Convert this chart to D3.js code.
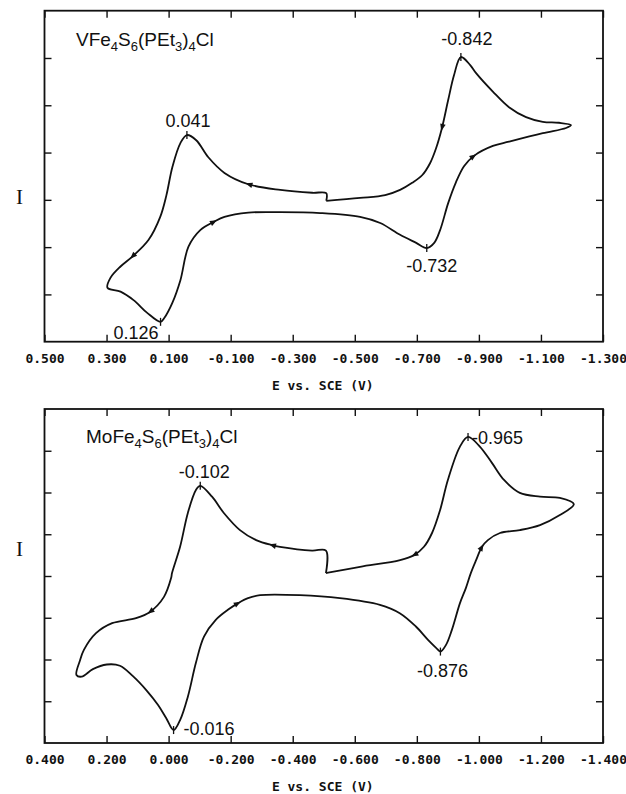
<!DOCTYPE html>
<html>
<head>
<meta charset="utf-8">
<script src="https://cdn.jsdelivr.net/npm/d3@7"></script>
<style>
  body { margin: 0; background: #fff; }
  svg { display: block; }
</style>
</head>
<body>
<svg id="chart" width="626" height="794"></svg>
<script>
// ---- data (E in V vs SCE, I in tick units from the bottom of each frame) ----
const vfeTicks = [0.5, 0.3, 0.1, -0.1, -0.3, -0.5, -0.7, -0.9, -1.1, -1.3];
const moTicks = [0.4, 0.2, 0.0, -0.2, -0.4, -0.6, -0.8, -1.0, -1.2, -1.4];

// VFe4S6(PEt3)4Cl, scan starts at the step near -0.4 V
const vfeCurve = [
  [-0.408, 2.98], [-0.408, 3.14], [-0.363, 3.15], [-0.260, 3.21], [-0.157, 3.33],
  [-0.080, 3.57], [-0.028, 3.90], [0.011, 4.26], [0.041, 4.37], [0.062, 4.20],
  [0.088, 3.69], [0.107, 3.10], [0.127, 2.64], [0.165, 2.15], [0.217, 1.80],
  [0.255, 1.59], [0.2875, 1.35], [0.297, 1.14], [0.255, 1.06], [0.213, 0.88],
  [0.169, 0.61], [0.126, 0.42], [0.114, 0.50], [0.088, 0.82], [0.062, 1.30],
  [0.036, 2.01], [-0.002, 2.36], [-0.047, 2.54], [-0.080, 2.64], [-0.157, 2.73],
  [-0.260, 2.74], [-0.389, 2.72], [-0.517, 2.64], [-0.582, 2.51], [-0.646, 2.26],
  [-0.698, 2.09], [-0.732, 1.98], [-0.756, 2.09], [-0.775, 2.36], [-0.801, 2.93],
  [-0.826, 3.37], [-0.852, 3.71], [-0.884, 3.93], [-0.945, 4.14], [-0.997, 4.23],
  [-1.106, 4.41], [-1.181, 4.52], [-1.197, 4.58], [-1.158, 4.63], [-1.106, 4.65],
  [-1.052, 4.75], [-0.997, 4.96], [-0.945, 5.29], [-0.891, 5.68], [-0.872, 5.85],
  [-0.842, 6.02], [-0.820, 5.64], [-0.801, 5.11], [-0.781, 4.52], [-0.762, 4.09],
  [-0.743, 3.78], [-0.717, 3.52], [-0.685, 3.36], [-0.646, 3.21], [-0.598, 3.10],
  [-0.517, 3.04], [-0.408, 2.98]
];
const vfeArrows = [[-0.157, 3.33], [0.217, 1.80], [-0.047, 2.54], [-0.884, 3.93], [-0.781, 4.52]];
const vfePeaks = [
  { E: 0.041, I: 4.37, text: "0.041" },
  { E: -0.842, I: 6.02, text: "-0.842" },
  { E: 0.126, I: 0.42, text: "0.126" },
  { E: -0.732, I: 1.98, text: "-0.732" }
];

// MoFe4S6(PEt3)4Cl, scan starts at the step near -0.5 V
const moCurve = [
  [-0.507, 4.07], [-0.507, 4.61], [-0.462, 4.61], [-0.359, 4.70], [-0.333, 4.74],
  [-0.282, 4.86], [-0.230, 5.10], [-0.178, 5.51], [-0.140, 5.90], [-0.102, 6.16],
  [-0.088, 6.06], [-0.062, 5.51], [-0.037, 4.70], [-0.011, 4.07], [-0.008, 3.95],
  [0.015, 3.50], [0.060, 3.14], [0.105, 2.99], [0.182, 2.87], [0.234, 2.63],
  [0.273, 2.23], [0.286, 1.97], [0.297, 1.63], [0.280, 1.59], [0.244, 1.77],
  [0.199, 1.88], [0.157, 1.85], [0.115, 1.60], [0.070, 1.25], [0.034, 0.91],
  [0.008, 0.60], [-0.016, 0.31], [-0.037, 0.55], [-0.062, 1.11], [-0.088, 1.92],
  [-0.114, 2.55], [-0.152, 2.95], [-0.191, 3.19], [-0.224, 3.35], [-0.256, 3.47],
  [-0.295, 3.54], [-0.423, 3.54], [-0.552, 3.47], [-0.681, 3.31], [-0.745, 3.11],
  [-0.797, 2.79], [-0.836, 2.47], [-0.862, 2.28], [-0.876, 2.19], [-0.894, 2.35],
  [-0.913, 2.71], [-0.939, 3.35], [-0.958, 3.71], [-0.974, 4.07], [-0.991, 4.38],
  [-1.010, 4.70], [-1.029, 4.86], [-1.068, 5.03], [-1.132, 5.10], [-1.197, 5.22],
  [-1.261, 5.46], [-1.306, 5.72], [-1.261, 5.87], [-1.197, 5.90], [-1.132, 5.99],
  [-1.081, 6.30], [-1.042, 6.71], [-1.003, 7.10], [-0.965, 7.33], [-0.939, 7.10],
  [-0.900, 6.30], [-0.875, 5.58], [-0.849, 5.03], [-0.823, 4.70], [-0.791, 4.50],
  [-0.746, 4.38], [-0.617, 4.22], [-0.514, 4.08], [-0.507, 4.07]
];
const moArrows = [[-0.333, 4.74], [0.060, 3.14], [-0.224, 3.35], [-1.010, 4.70], [-0.791, 4.50]];
const moPeaks = [
  { E: -0.102, I: 6.16, text: "-0.102" },
  { E: -0.965, I: 7.33, text: "-0.965" },
  { E: -0.016, I: 0.31, text: "-0.016" },
  { E: -0.876, I: 2.19, text: "-0.876" }
];

const svg = d3.select("#chart");
const monoFont = "'DejaVu Sans Mono', monospace";
const sansFont = "'Liberation Sans', Arial, sans-serif";

function drawPanel(p) {
  const x = d3.scaleLinear().domain([p.ticks[0], p.ticks[p.ticks.length - 1]]).range([p.left, p.right]);
  const y = d3.scaleLinear().domain([0, p.yMax]).range([p.bottom, p.top]);
  const yTicks = d3.range(1, p.yMax);
  const g = svg.append("g");

  const styleAxis = a => {
    a.select(".domain").remove();
    a.selectAll("line").attr("stroke", "#111").attr("stroke-width", 1.4);
  };

  // x axis with labels, plus inward ticks on the other three sides
  g.append("g")
    .attr("transform", `translate(0,${p.bottom})`)
    .call(d3.axisBottom(x).tickValues(p.ticks).tickSize(-7).tickPadding(12).tickFormat(d => d.toFixed(3)))
    .call(styleAxis)
    .call(a => a.selectAll("text")
      .attr("font-family", monoFont).attr("font-weight", "bold")
      .attr("font-size", 13).attr("fill", "#111"));
  g.append("g")
    .attr("transform", `translate(0,${p.top})`)
    .call(d3.axisTop(x).tickValues(p.ticks).tickSize(-7).tickFormat(""))
    .call(styleAxis);
  g.append("g")
    .attr("transform", `translate(${p.left},0)`)
    .call(d3.axisLeft(y).tickValues(yTicks).tickSize(-7).tickFormat(""))
    .call(styleAxis);
  g.append("g")
    .attr("transform", `translate(${p.right},0)`)
    .call(d3.axisRight(y).tickValues(yTicks).tickSize(-7).tickFormat(""))
    .call(styleAxis);

  g.append("rect")
    .attr("x", p.left).attr("y", p.top)
    .attr("width", p.right - p.left).attr("height", p.bottom - p.top)
    .attr("fill", "none").attr("stroke", "#111").attr("stroke-width", 1.8);

  // the voltammogram
  const line = d3.line()
    .x(d => x(d[0]))
    .y(d => y(d[1]))
    .curve(d3.curveCatmullRom.alpha(0.5));
  g.append("path")
    .datum(p.curve)
    .attr("d", line)
    .attr("fill", "none")
    .attr("stroke", "#111")
    .attr("stroke-width", 1.8)
    .attr("stroke-linejoin", "round");

  // direction arrows, pointing along the scan
  p.arrows.forEach(a => {
    const i = d3.minIndex(p.curve, d => Math.hypot(d[0] - a[0], d[1] - a[1]));
    const prev = p.curve[Math.max(i - 1, 0)], next = p.curve[Math.min(i + 1, p.curve.length - 1)];
    const ang = Math.atan2(y(next[1]) - y(prev[1]), x(next[0]) - x(prev[0])) * 180 / Math.PI;
    g.append("path")
      .attr("d", "M3,0 L-4,-2.8 L-4,2.8 Z")
      .attr("transform", `translate(${x(a[0])},${y(a[1])}) rotate(${ang})`)
      .attr("fill", "#111");
  });

  // peak marks and labels
  p.peaks.forEach((pk, k) => {
    const px = x(pk.E), py = y(pk.I);
    g.append("line")
      .attr("x1", px).attr("x2", px)
      .attr("y1", py - 4).attr("y2", py + 4)
      .attr("stroke", "#111").attr("stroke-width", 1.3);
    const o = p.labelPos[k];
    g.append("text")
      .attr("x", px + o[0]).attr("y", py + o[1])
      .attr("text-anchor", o[2])
      .attr("font-family", sansFont).attr("font-size", 18).attr("fill", "#111")
      .text(pk.text);
  });

  // compound name with subscripts
  const title = g.append("text")
    .attr("x", p.titleX).attr("y", p.titleY)
    .attr("font-family", sansFont).attr("font-size", 19).attr("fill", "#111");
  let shift = 0;
  p.title.split(/(_\d)/).filter(s => s.length).forEach(s => {
    if (s[0] === "_") {
      title.append("tspan").attr("font-size", 13).attr("dy", 5 - shift).text(s.slice(1));
      shift = 5;
    } else {
      title.append("tspan").attr("dy", -shift).text(s);
      shift = 0;
    }
  });

  // axis names
  g.append("text")
    .attr("x", (p.left + p.right) / 2 - 1).attr("y", p.bottom + 48)
    .attr("text-anchor", "middle")
    .attr("font-family", monoFont).attr("font-weight", "bold")
    .attr("font-size", 13).attr("fill", "#111")
    .text("E vs. SCE (V)");
  g.append("text")
    .attr("x", 19.5).attr("y", p.iLabelY)
    .attr("text-anchor", "middle")
    .attr("font-family", "'Liberation Serif', 'DejaVu Serif', serif")
    .attr("font-size", 21).attr("fill", "#111")
    .text("I");
}

drawPanel({
  ticks: vfeTicks, yMax: 7, curve: vfeCurve, arrows: vfeArrows, peaks: vfePeaks,
  left: 44.5, right: 603, top: 10.7, bottom: 341.7,
  labelPos: [[1, -8, "middle"], [6, -12, "middle"], [-2, 17, "end"], [5, 24, "middle"]],
  title: "VFe_4S_6(PEt_3)_4Cl", titleX: 76, titleY: 46,
  iLabelY: 204
});

drawPanel({
  ticks: moTicks, yMax: 8, curve: moCurve, arrows: moArrows, peaks: moPeaks,
  left: 44.5, right: 603, top: 409, bottom: 743,
  labelPos: [[4, -8, "middle"], [4, 7, "start"], [10, 5, "start"], [2, 25, "middle"]],
  title: "MoFe_4S_6(PEt_3)_4Cl", titleX: 86, titleY: 443,
  iLabelY: 556
});
</script>
</body>
</html>
